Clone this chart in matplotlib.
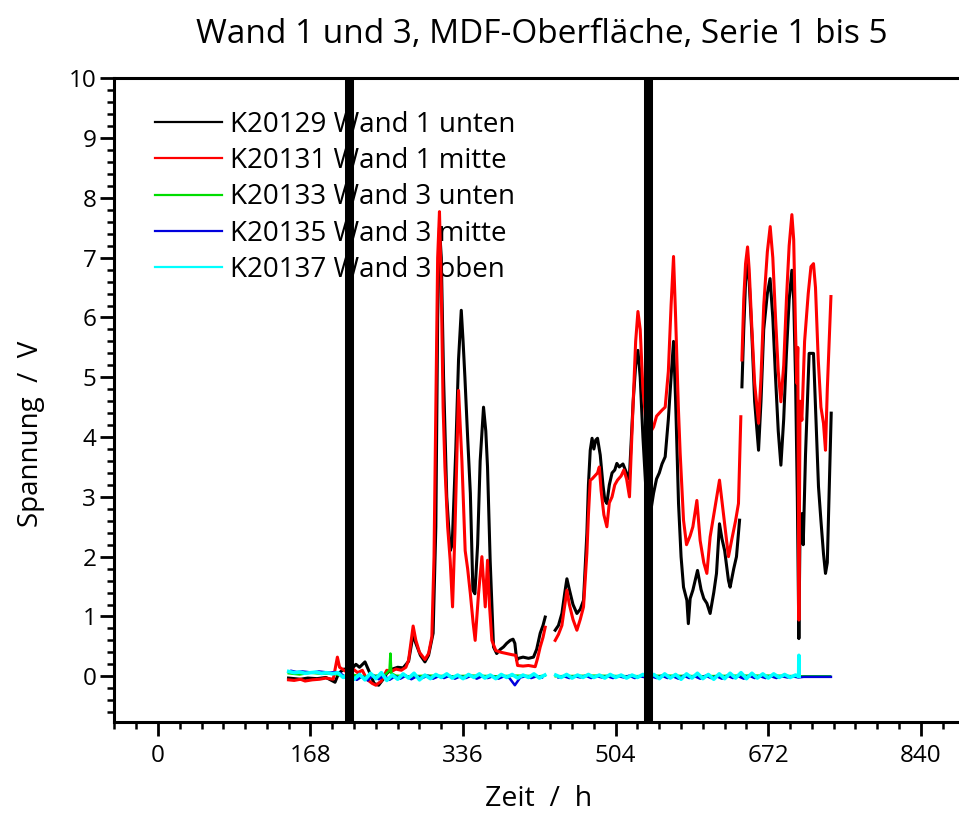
import numpy as np
import matplotlib
matplotlib.use("Agg")
import matplotlib.pyplot as plt
from matplotlib.ticker import MultipleLocator

plt.rcParams['font.family'] = ['Open Sans', 'DejaVu Sans']

# K20129 Wand 1 unten (schwarz), drei Abschnitte
t_k129_a = [143.8, 150, 157, 165, 175, 185, 195, 199, 205, 212, 218, 222, 228, 232, 238, 243, 248, 252,
            258, 264, 270, 276, 281, 284, 289, 294, 298, 303, 306, 308, 310, 312, 314.5, 318, 321.8, 324,
            328, 331, 334, 336, 338, 341, 344, 346.8, 349, 352, 354.8, 358.5, 361, 362.9, 365.8, 369.5,
            373, 377, 380.5, 384, 387.9, 391, 393, 395, 397, 402, 408, 413.5, 417, 420.9, 424, 426.4]
u_k129_a = [-0.03, -0.04, -0.05, -0.03, -0.04, -0.02, -0.10, 0.05, 0.12, 0.10, 0.20, 0.15, 0.24, 0.10,
            -0.12, -0.15, -0.05, 0.05, 0.12, 0.15, 0.14, 0.25, 0.70, 0.55, 0.35, 0.24, 0.35, 0.72, 2.5,
            6.0, 7.5, 7.0, 5.0, 3.0, 2.1, 2.2, 3.8, 5.3, 6.12, 5.6, 5.0, 4.0, 3.06, 1.44, 1.38, 2.2, 3.6,
            4.5, 4.1, 3.5, 1.94, 0.49, 0.38, 0.45, 0.49, 0.55, 0.60, 0.62, 0.55, 0.27, 0.30, 0.32, 0.30,
            0.32, 0.45, 0.72, 0.85, 0.99]
t_k129_b = [437.4, 441, 444.8, 448, 450.3, 453, 457, 461.3, 465, 468.6, 472.3, 474, 476, 478, 480, 482,
            484, 487, 490, 492, 494.3, 497, 500, 503, 505.3, 508, 512, 516, 519, 523.3, 526, 528.5, 531,
            534, 537, 540, 543, 545.7, 549, 552, 555, 558.5, 562, 565, 567.7, 570, 573.2, 576, 578.7,
            582.4, 584, 586, 589, 594.1, 598, 601, 604.4, 608, 612, 615, 618.3, 621, 624, 628.2, 630,
            634, 637, 640.4]
u_k129_b = [0.77, 0.85, 1.05, 1.4, 1.63, 1.45, 1.2, 1.05, 1.12, 1.27, 2.39, 3.2, 3.78, 3.98, 3.8, 3.95,
            3.98, 3.7, 3.2, 2.95, 2.89, 3.2, 3.4, 3.45, 3.56, 3.5, 3.55, 3.4, 3.3, 4.6, 5.2, 5.45, 5.0,
            4.0, 3.2, 2.6, 2.8, 3.06, 3.3, 3.4, 3.55, 3.67, 4.3, 5.0, 5.6, 4.6, 2.89, 2.0, 1.49, 1.27,
            0.88, 1.3, 1.44, 1.77, 1.45, 1.3, 1.22, 1.05, 1.4, 1.72, 2.55, 2.3, 2.1, 1.6, 1.49, 1.8, 2.0,
            2.61]
t_k129_c = [643, 645, 647, 649.2, 651, 654, 657, 661.3, 664, 667, 671, 674, 677, 680, 683, 685.9, 689,
            692, 695, 698, 700, 702, 704, 705.7, 707, 709, 710.5, 713, 717, 721.8, 724, 727.3, 730,
            732.8, 735, 737, 741.3]
u_k129_c = [4.84, 5.8, 6.6, 6.96, 6.6, 5.7, 4.6, 3.78, 4.6, 5.8, 6.4, 6.65, 6.0, 5.0, 4.1, 3.53, 4.3,
            5.4, 6.3, 6.79, 6.3, 5.0, 3.0, 0.63, 2.5, 2.72, 2.2, 3.7, 5.4, 5.4, 4.5, 3.17, 2.6, 2.05,
            1.72, 1.9, 4.4]

# K20131 Wand 1 mitte (rot)
t_k131_a = [143.8, 150, 157, 162, 170, 178, 185, 193, 197.6, 200, 205, 210, 215, 220, 225, 230, 236, 240,
            246, 252, 257, 262, 268, 273, 276, 281, 284, 288, 294, 298, 301.6, 304, 306, 308, 310, 312,
            314, 316, 319, 321.8, 324.4, 327, 331, 334.7, 338.3, 341, 344, 347, 349.3, 353, 356.7, 360.4,
            362.9, 365, 367.7, 372, 378, 384, 390, 394, 396, 402, 408, 415.4, 418, 420.9, 424, 426.4]
u_k131_a = [-0.06, -0.07, -0.05, -0.08, -0.06, -0.05, -0.03, -0.05, 0.32, 0.15, 0.10, 0.05, 0.12, 0.06,
            0.10, -0.05, -0.12, -0.15, -0.08, 0.10, 0.08, 0.12, 0.10, 0.15, 0.27, 0.84, 0.60, 0.40, 0.28,
            0.38, 0.66, 2.0, 4.5, 7.0, 7.77, 6.5, 4.5, 3.5, 2.5, 1.94, 1.16, 2.4, 4.78, 3.6, 2.1, 1.8,
            1.38, 0.9, 0.6, 1.38, 2.0, 1.16, 1.94, 1.2, 0.6, 0.43, 0.40, 0.38, 0.36, 0.35, 0.18, 0.17,
            0.18, 0.16, 0.30, 0.49, 0.65, 0.82]
t_k131_b = [437.4, 441, 444.8, 448, 450.3, 453, 457, 461.3, 465, 468.6, 472.3, 474, 476, 478, 481, 484,
            486, 488, 491, 494.3, 497, 500, 503, 506, 510, 513, 516, 519.2, 523.3, 526, 528.5, 531, 534,
            537, 540, 543, 545.7, 549, 552, 555, 558.5, 562, 565, 567.7, 570, 573, 575, 578.7, 582, 586,
            589, 593.4, 597, 601, 604.4, 608, 612, 618.3, 622, 628.2, 632, 636, 639.2, 641.8]
u_k131_b = [0.60, 0.70, 0.85, 1.2, 1.44, 1.2, 0.95, 0.77, 0.95, 1.16, 2.06, 2.7, 3.28, 3.3, 3.35, 3.4,
            3.5, 3.1, 2.7, 2.5, 2.9, 3.0, 3.2, 3.28, 3.35, 3.45, 3.3, 3.0, 4.6, 5.6, 6.1, 5.8, 4.8, 4.3,
            4.0, 4.1, 4.17, 4.35, 4.4, 4.45, 4.5, 5.1, 6.2, 7.02, 6.0, 4.5, 3.73, 2.61, 2.2, 2.35, 2.5,
            2.94, 2.27, 1.9, 1.72, 2.33, 2.7, 3.28, 2.8, 2.0, 2.3, 2.6, 2.89, 4.34]
t_k131_c = [643, 645, 647, 649.2, 651, 654, 657, 661.3, 664, 667, 671, 674.1, 677, 680, 683, 685.9, 689,
            692, 695, 698, 700, 702, 703.5, 704.5, 705.7, 707, 709, 712, 716, 719, 721.8, 724, 727, 730,
            732.8, 735, 737, 741]
u_k131_c = [5.29, 6.3, 6.9, 7.18, 6.8, 5.8, 4.9, 4.23, 5.0, 6.2, 7.1, 7.52, 7.0, 6.0, 5.1, 4.59, 5.2,
            6.3, 7.2, 7.72, 7.3, 5.8, 4.9, 5.5, 0.94, 4.6, 4.28, 5.6, 6.4, 6.85, 6.9, 6.5, 5.3, 4.5,
            4.23, 3.78, 4.8, 6.35]

# K20133 Wand 3 unten (gruen)
t_k133_a = [144, 156, 168, 180, 192, 204, 216, 228, 240, 250, 255, 256, 257, 262, 276, 300, 324, 348,
            372, 396, 420, 426]
u_k133_a = [0.05, 0.03, 0.06, 0.04, 0.05, 0.00, 0.02, -0.01, 0.01, 0.02, 0.10, 0.38, 0.05, 0.01, 0.00,
            0.01, 0.00, 0.01, 0.00, 0.01, 0.00, 0.01]
t_k133_b = [438, 480, 520, 560, 600, 640, 680, 704, 706, 740]
u_k133_b = [0.00, 0.01, 0.00, 0.01, 0.00, 0.01, 0.01, 0.00, 0.00, 0.00]

# K20135 Wand 3 mitte (blau), Messwerte alle 6 h
t_k135_a = np.arange(147, 424, 6)
u_k135_a = [0.09, 0.07, 0.08, 0.07, 0.06, 0.08, 0.07, 0.06, 0.07, 0.05,
            -0.03, 0.01, -0.06, 0.00, -0.07, 0.02, -0.05, 0.01, -0.06, 0.00,
            -0.04, 0.01, -0.05, 0.00, -0.03, 0.01, -0.04, 0.00, -0.03, 0.01,
            -0.04, 0.00, -0.03, 0.01, -0.04, 0.00, -0.03, 0.00, -0.04, 0.00,
            -0.03, -0.15, -0.02, 0.00, -0.03, 0.00, -0.02]
t_k135_b = np.arange(441, 742, 6)
u_k135_b = [-0.02, 0.00, -0.03, 0.00, -0.02, 0.01, -0.03, 0.00, -0.02, 0.00,
            -0.03, 0.00, -0.02, 0.01, -0.03, 0.00, -0.02, 0.00, -0.03, 0.01,
            -0.03, 0.00, -0.04, 0.01, -0.03, 0.00, -0.04, 0.01, -0.03, 0.00,
            -0.04, 0.01, -0.03, 0.00, -0.04, 0.01, -0.03, 0.00, -0.03, 0.00,
            -0.03, 0.00, -0.02, 0.00, -0.02, -0.01, -0.01, -0.01, -0.01, -0.01,
            -0.01]

# K20137 Wand 3 oben (cyan), Messwerte alle 6 h
t_k137_a = np.arange(144, 427, 6)
u_k137_a = [0.08, 0.06, 0.07, 0.05, 0.06, 0.07, 0.05, 0.06, 0.04, 0.06,
            -0.02, 0.04, -0.05, 0.03, -0.06, 0.05, -0.04, 0.06, -0.07, 0.02,
            -0.05, 0.04, -0.03, 0.05, -0.06, 0.02, -0.04, 0.03, -0.02, 0.04,
            -0.03, 0.02, -0.04, 0.03, -0.02, 0.04, -0.03, 0.02, -0.04, 0.03,
            -0.02, 0.03, -0.03, 0.02, -0.02, 0.04, -0.03, 0.02]
t_k137_b = list(np.arange(438, 703, 6)) + [705.5, 705.7, 706]
u_k137_b = [0.02, -0.02, 0.03, -0.03, 0.02, -0.02, 0.03, -0.02, 0.02, -0.03,
            0.03, -0.02, 0.02, -0.03, 0.02, -0.02, 0.03, -0.02, 0.03, -0.04,
            0.04, -0.03, 0.03, -0.05, 0.04, -0.03, 0.05, -0.04, 0.03, -0.05,
            0.04, -0.04, 0.05, -0.03, 0.06, -0.04, 0.05, -0.03, 0.04, -0.03,
            0.04, -0.02, 0.03, -0.02, 0.02, 0.00, 0.35, 0.00]

# Serienwechsel
t_wechsel = [210, 540]

labels = ['K20129 Wand 1 unten', 'K20131 Wand 1 mitte', 'K20133 Wand 3 unten',
          'K20135 Wand 3 mitte', 'K20137 Wand 3 oben']
colors = ['black', 'red', '#00dd00', '#0000dd', 'cyan']


def join(*segs):
    # Abschnitte mit Luecke (NaN) verbinden
    t, u = [], []
    for i in range(0, len(segs), 2):
        if t:
            t.append(np.nan)
            u.append(np.nan)
        t += list(segs[i])
        u += list(segs[i + 1])
    return np.array(t, float), np.array(u, float)


series = [
    join(t_k129_a, u_k129_a, t_k129_b, u_k129_b, t_k129_c, u_k129_c),
    join(t_k131_a, u_k131_a, t_k131_b, u_k131_b, t_k131_c, u_k131_c),
    join(t_k133_a, u_k133_a, t_k133_b, u_k133_b),
    join(t_k135_a, u_k135_a, t_k135_b, u_k135_b),
    join(t_k137_a, u_k137_a, t_k137_b, u_k137_b),
]

fig = plt.figure(figsize=(9.59, 8.19), dpi=100)
ax = fig.add_axes([0.1192, 0.1188, 0.8808, 0.7856])

widths = [2.2, 2.2, 1.8, 1.8, 2.6]
for (t, u), lab, c, lw in zip(series, labels, colors, widths):
    ax.plot(t, u, color=c, lw=lw, label=lab, zorder=2)

for tw in t_wechsel:
    ax.axvline(tw, color='black', lw=6.5, zorder=6)

ax.set_xlim(-48, 882)
ax.set_ylim(-0.76, 10)
ax.xaxis.set_major_locator(MultipleLocator(168))
ax.xaxis.set_minor_locator(MultipleLocator(24))
ax.yaxis.set_major_locator(MultipleLocator(1))
ax.yaxis.set_minor_locator(MultipleLocator(0.2))
ax.tick_params(which='major', direction='out', length=10, width=2, labelsize=17.5, pad=6)
ax.tick_params(which='minor', direction='out', length=5, width=1.8)
ax.tick_params(axis='y', pad=3)
for s in ['left', 'bottom', 'top']:
    ax.spines[s].set_linewidth(2.2)
ax.spines['right'].set_visible(False)

leg = ax.legend(loc='upper left', bbox_to_anchor=(0.035, 0.967), frameon=False, fontsize=20,
                handlelength=2.4, handletextpad=0.3, labelspacing=0.3, borderaxespad=0)
for h in leg.get_lines():
    h.set_linewidth(1.6)
leg.set_zorder(1)

fig.text(0.565, 0.958, 'Wand 1 und 3, MDF-Oberfläche, Serie 1 bis 5', ha='center', va='center',
         fontsize=24)
fig.text(0.562, 0.024, 'Zeit  /  h', ha='center', va='center', fontsize=20.5)
fig.text(0.032, 0.47, 'Spannung  /  V', ha='center', va='center', rotation=90, fontsize=20)

fig.savefig('out.png', dpi=100)
